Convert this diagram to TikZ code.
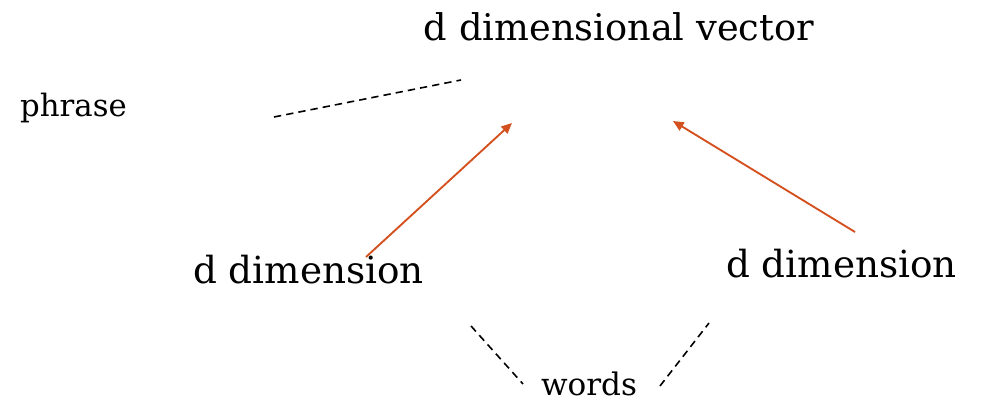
\documentclass[tikz,border=0pt]{standalone}
\usepackage{fontspec}
\setmainfont{DejaVu Serif}
\usetikzlibrary{arrows.meta}
\definecolor{arrowc}{HTML}{D4501E}
\tikzset{
  lbl/.style={inner sep=0pt, anchor=center, text=black},
  dashline/.style={draw=black, line width=1.2pt, dash pattern=on 5.5pt off 3.8pt},
  orarrow/.style={draw=arrowc, line width=1.4pt, -{Triangle[length=8pt,width=7pt]}}
}
\newcommand{\fitw}[2]{\resizebox{#1}{!}{#2}}
\begin{document}
\begin{tikzpicture}[x=0.75pt,y=-0.75pt]
\useasboundingbox (0,0) rectangle (984,402);
\node[lbl] (vec) at (619,27) {\fitw{292.5pt}{d dimensional vector}};
\node[lbl] (phrase) at (73.5,108) {\fitw{80pt}{phrase}};
\node[lbl] (dl) at (308.5,270) {\fitw{173pt}{d dimension}};
\node[lbl] (dr) at (841.5,264) {\fitw{173pt}{d dimension}};
\node[lbl] (words) at (589,384) {\fitw{72pt}{words}};
\coordinate (p1) at (274,117);
\coordinate (p2) at (461,80);
\coordinate (a1s) at (366,257);
\coordinate (a1e) at (512,123);
\coordinate (a2s) at (855,232);
\coordinate (a2e) at (673,121);
\coordinate (w1) at (471,326);
\coordinate (w2) at (523,384);
\coordinate (w3) at (660,386);
\coordinate (w4) at (709,323);
\draw[dashline] (p1) -- (p2);
\draw[orarrow] (a1s) -- (a1e);
\draw[orarrow] (a2s) -- (a2e);
\draw[dashline] (w1) -- (w2);
\draw[dashline] (w3) -- (w4);
\end{tikzpicture}
\end{document}
